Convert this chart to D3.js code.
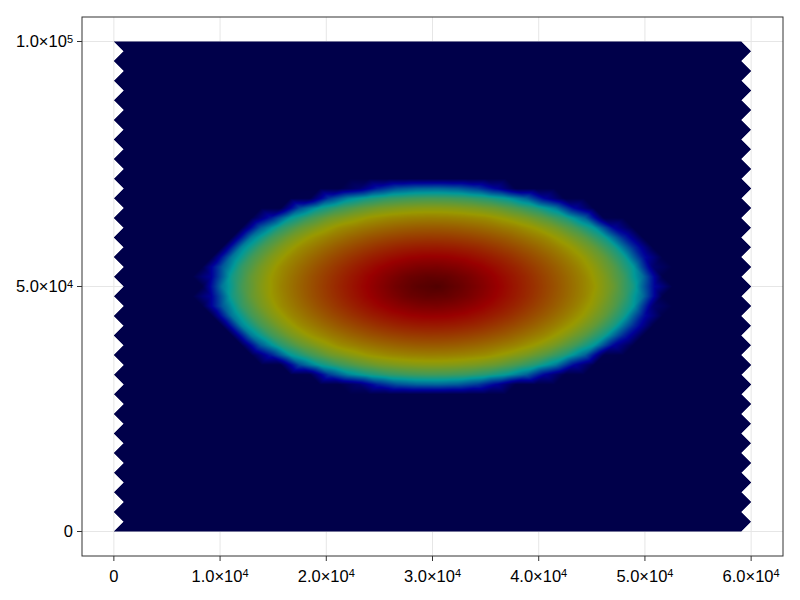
<!DOCTYPE html>
<html>
<head>
<meta charset="utf-8">
<script src="https://cdn.jsdelivr.net/npm/d3@7"></script>
<style>
  body { margin: 0; background: #fff; }
  svg { display: block; }
</style>
</head>
<body>
<div id="chart"></div>
<script>
// -------------------------------------------------------------------------
// Data
// -------------------------------------------------------------------------
const xTicks = [0, 10000, 20000, 30000, 40000, 50000, 60000];
const xTickLabels = ["0", "1.0×10^4", "2.0×10^4", "3.0×10^4", "4.0×10^4", "5.0×10^4", "6.0×10^4"];
const yTicks = [0, 50000, 100000];
const yTickLabels = ["0", "5.0×10^4", "1.0×10^5"];

// triangle mesh: rows every 2000, odd rows shifted by half a column
const meshWidth = 60000;
const meshRows = 51;
const meshRowStep = 2000;
const meshNodesPerRow = 33;

// blob: level as a function of distance from its centre
const blobCenter = [30000, 50000];
const profileRadius = [0, 3000, 6000, 9000, 12000, 15000, 17000, 18500, 19500, 20300, 20900, 21400];
const profileLevel  = [1.0, 0.95, 0.88, 0.81, 0.73, 0.64, 0.55, 0.45, 0.36, 0.25, 0.12, 0.0];

// dimmed jet colormap
const colorStops = [0, 0.125, 0.375, 0.625, 0.875, 1];
const colorRange = ["#00004a", "#000099", "#009999", "#999900", "#990000", "#4d0000"];

// -------------------------------------------------------------------------
// Canvas setup
// -------------------------------------------------------------------------
const W = 800, H = 600;
const plot = { left: 82, right: 783, top: 17, bottom: 556 };

const x = d3.scaleLinear().domain([-3000, 63000]).range([plot.left, plot.right]);
const y = d3.scaleLinear().domain([-5000, 105000]).range([plot.bottom, plot.top]);
const levelOf = d3.scaleLinear().domain(profileRadius).range(profileLevel).clamp(true);
const color = d3.scaleLinear().domain(colorStops).range(colorRange)
    .interpolate(d3.interpolateRgb).clamp(true);

const svg = d3.select("#chart").append("svg")
    .attr("width", W)
    .attr("height", H)
    .style("font-family", "'Liberation Sans', Arial, sans-serif");

// grid
const grid = svg.append("g").attr("stroke", "#e6e6e6").attr("stroke-width", 1);
grid.selectAll(".gx").data(xTicks).join("line")
    .attr("x1", d => x(d)).attr("x2", d => x(d))
    .attr("y1", plot.top).attr("y2", plot.bottom);
grid.selectAll(".gy").data(yTicks).join("line")
    .attr("y1", d => y(d)).attr("y2", d => y(d))
    .attr("x1", plot.left).attr("x2", plot.right);

// -------------------------------------------------------------------------
// Mesh nodes and triangles
// -------------------------------------------------------------------------
const dx = meshWidth / (meshNodesPerRow - 0.5);
const rows = d3.range(meshRows).map(r => {
    const off = (r % 2) ? dx / 2 : 0;
    return d3.range(meshNodesPerRow).map(k => {
        const nx = off + k * dx, ny = r * meshRowStep;
        const v = levelOf(Math.hypot(nx - blobCenter[0], ny - blobCenter[1]));
        return { px: x(nx), py: y(ny), v: v };
    });
});

const tris = [];
for (let r = 0; r < meshRows - 1; r++) {
    const E = (r % 2) ? rows[r + 1] : rows[r];
    const O = (r % 2) ? rows[r] : rows[r + 1];
    for (let k = 0; k < meshNodesPerRow - 1; k++) {
        tris.push([E[k], E[k + 1], O[k]]);
        tris.push([O[k], O[k + 1], E[k + 1]]);
    }
}

// rasterise with value interpolation, 2x supersampled
const SS = 2;
const cw = (plot.right - plot.left) * SS, ch = (plot.bottom - plot.top) * SS;
const cnv = document.createElement("canvas");
cnv.width = cw; cnv.height = ch;
const ctx = cnv.getContext("2d");
const img = ctx.createImageData(cw, ch);
const lut = d3.range(512).map(i => d3.rgb(color(i / 511)));

tris.forEach(t => {
    const [a, b, c] = t.map(p => ({ x: (p.px - plot.left) * SS, y: (p.py - plot.top) * SS, v: p.v }));
    const det = (b.y - c.y) * (a.x - c.x) + (c.x - b.x) * (a.y - c.y);
    if (Math.abs(det) < 1e-9) return;
    const x0 = Math.max(0, Math.floor(Math.min(a.x, b.x, c.x)));
    const x1 = Math.min(cw - 1, Math.ceil(Math.max(a.x, b.x, c.x)));
    const y0 = Math.max(0, Math.floor(Math.min(a.y, b.y, c.y)));
    const y1 = Math.min(ch - 1, Math.ceil(Math.max(a.y, b.y, c.y)));
    for (let j = y0; j <= y1; j++) {
        const py = j + 0.5;
        for (let i = x0; i <= x1; i++) {
            const px = i + 0.5;
            const w1 = ((b.y - c.y) * (px - c.x) + (c.x - b.x) * (py - c.y)) / det;
            const w2 = ((c.y - a.y) * (px - c.x) + (a.x - c.x) * (py - c.y)) / det;
            const w3 = 1 - w1 - w2;
            if (w1 < -1e-6 || w2 < -1e-6 || w3 < -1e-6) continue;
            const v = w1 * a.v + w2 * b.v + w3 * c.v;
            const col = lut[Math.round(Math.max(0, Math.min(1, v)) * 511)];
            const idx = (j * cw + i) * 4;
            img.data[idx] = col.r;
            img.data[idx + 1] = col.g;
            img.data[idx + 2] = col.b;
            img.data[idx + 3] = 255;
        }
    }
});
ctx.putImageData(img, 0, 0);

svg.append("image")
    .attr("href", cnv.toDataURL())
    .attr("x", plot.left).attr("y", plot.top)
    .attr("width", plot.right - plot.left)
    .attr("height", plot.bottom - plot.top)
    .attr("preserveAspectRatio", "none");

// -------------------------------------------------------------------------
// Frame, ticks, labels
// -------------------------------------------------------------------------
svg.append("rect")
    .attr("x", plot.left).attr("y", plot.top)
    .attr("width", plot.right - plot.left).attr("height", plot.bottom - plot.top)
    .attr("fill", "none").attr("stroke", "#333").attr("stroke-width", 1);

const ticks = svg.append("g").attr("stroke", "#333").attr("stroke-width", 1);
ticks.selectAll(".tx").data(xTicks).join("line")
    .attr("x1", d => x(d)).attr("x2", d => x(d))
    .attr("y1", plot.bottom).attr("y2", plot.bottom + 5);
ticks.selectAll(".ty").data(yTicks).join("line")
    .attr("y1", d => y(d)).attr("y2", d => y(d))
    .attr("x1", plot.left - 5).attr("x2", plot.left);

function writeLabel(sel, label) {
    const [base, exp] = label.split("^");
    sel.append("tspan").text(base);
    if (exp) sel.append("tspan").attr("font-size", 11).attr("dy", -4.8).text(exp);
}

svg.append("g").selectAll("text").data(xTicks).join("text")
    .attr("x", d => x(d))
    .attr("y", plot.bottom + 26)
    .attr("text-anchor", "middle")
    .attr("font-size", 16.5)
    .attr("fill", "#000")
    .each(function (d, i) { writeLabel(d3.select(this), xTickLabels[i]); });

svg.append("g").selectAll("text").data(yTicks).join("text")
    .attr("x", plot.left - 9)
    .attr("y", d => y(d) + 5.8)
    .attr("text-anchor", "end")
    .attr("font-size", 16.5)
    .attr("fill", "#000")
    .each(function (d, i) { writeLabel(d3.select(this), yTickLabels[i]); });
</script>
</body>
</html>
